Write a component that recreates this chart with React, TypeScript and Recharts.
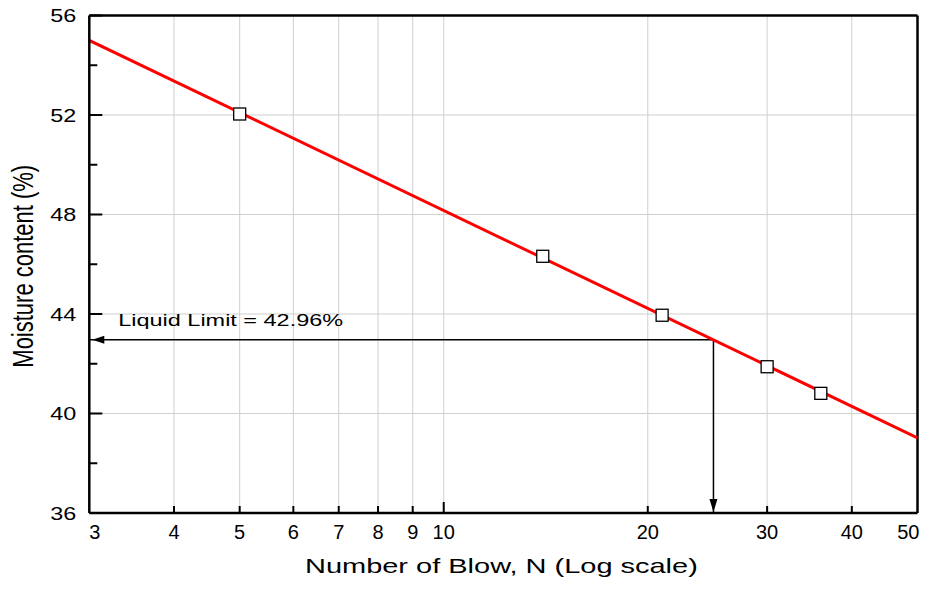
import {
  ComposedChart,
  Line,
  Scatter,
  XAxis,
  YAxis,
  CartesianGrid,
  ReferenceLine,
  Label,
} from 'recharts';

// Casagrande test results
const blowCounts = [5, 14, 21, 30, 36];
const moistureContent = [52.04, 46.32, 43.95, 41.88, 40.81];

// fitted flow line ends
const fitBlows = [3, 50];
const fitMoisture = [55.0, 39.02];

// liquid limit read at 25 blows
const llBlows = 25;
const liquidLimit = 42.96;

const xTicks = [3, 4, 5, 6, 7, 8, 9, 10, 20, 30, 40, 50];
const yTicks = [36, 38, 40, 42, 44, 46, 48, 50, 52, 54, 56];
const xGrid = [4, 5, 6, 7, 8, 9, 10, 20, 30, 40];
const yGrid = [40, 44, 48, 52];

const tests = blowCounts.map((n, i) => ({ n, w: moistureContent[i] }));
const fitLine = fitBlows.map((n, i) => ({ n, w: fitMoisture[i] }));
const hArrow = [
  { n: llBlows, w: liquidLimit },
  { n: 3, w: liquidLimit },
];
const vArrow = [
  { n: llBlows, w: liquidLimit },
  { n: llBlows, w: 36 },
];

const FONT = 'Liberation Sans, Arial, sans-serif';

const YTick = (props: any) => {
  const { x, y, payload } = props;
  const v = payload.value;
  const major = v % 4 === 0;
  return (
    <g>
      <line x1={x} y1={y} x2={x + (major ? 13 : 8)} y2={y} stroke="#000" strokeWidth={2} />
      {major && (
        <text
          transform={`translate(${x - 13},${y}) scale(1.23,1)`}
          textAnchor="end"
          dy="0.36em"
          fontSize={19}
          fontFamily={FONT}
          fill="#000"
        >
          {v}
        </text>
      )}
    </g>
  );
};

const XTick = (props: any) => {
  const { x, y, payload, index } = props;
  const v = payload.value;
  const major = v === 10;
  let anchor = 'middle';
  let tx = x;
  if (index === 0) {
    anchor = 'start';
  } else if (index === xTicks.length - 1) {
    anchor = 'end';
    tx = x + 2;
  }
  return (
    <g>
      {index !== 0 && index !== xTicks.length - 1 && (
        <line x1={x} y1={y} x2={x} y2={y - (major ? 11 : 7)} stroke="#000" strokeWidth={2} />
      )}
      <text x={tx} y={y + 26} textAnchor={anchor} fontSize={20} fontFamily={FONT} fill="#000">
        {v}
      </text>
    </g>
  );
};

const hArrowDot = (p: any) => {
  if (p.index !== hArrow.length - 1) return <g key={`h-${p.index}`} />;
  const { cx, cy } = p;
  return (
    <g key={`h-${p.index}`}>
      <polygon points={`${cx + 3},${cy} ${cx + 15},${cy - 4} ${cx + 15},${cy + 4}`} fill="#000" />
      <text
        transform={`translate(${cx + 29},${cy - 14}) scale(1.38,1)`}
        fontSize={17}
        fontFamily={FONT}
        fill="#000"
      >
        {`Liquid Limit = ${liquidLimit.toFixed(2)}%`}
      </text>
    </g>
  );
};

const vArrowDot = (p: any) => {
  if (p.index !== vArrow.length - 1) return <g key={`v-${p.index}`} />;
  const { cx, cy } = p;
  return (
    <polygon
      key={`v-${p.index}`}
      points={`${cx},${cy - 1} ${cx - 4},${cy - 14} ${cx + 4},${cy - 14}`}
      fill="#000"
    />
  );
};

const square = (p: any) => (
  <rect x={p.cx - 6} y={p.cy - 6} width={12} height={12} fill="#fff" stroke="#000" strokeWidth={1.3} />
);

const XTitle = (props: any) => {
  const vb = props.viewBox;
  return (
    <text
      transform={`translate(${vb.x + vb.width / 2 - 2},${vb.y + 60}) scale(1.38,1)`}
      textAnchor="middle"
      fontSize={21}
      fontFamily={FONT}
      fill="#000"
    >
      Number of Blow, N (Log scale)
    </text>
  );
};

const YTitle = (props: any) => {
  const vb = props.viewBox;
  return (
    <text
      transform={`translate(${vb.x + 4},${vb.y + vb.height / 2 + 2}) scale(1.38,1) rotate(-90)`}
      textAnchor="middle"
      fontSize={22}
      fontFamily={FONT}
      fill="#000"
    >
      Moisture content (%)
    </text>
  );
};

export default function App() {
  return (
    <div style={{ width: 921, height: 582 }}>
      <ComposedChart
        width={921}
        height={582}
        margin={{ top: 7.5, right: 11.5, bottom: 32, left: 21.3 }}
      >
        <CartesianGrid
          stroke="#cfcfcf"
          strokeWidth={1}
          horizontalValues={yGrid}
          verticalValues={xGrid}
        />
        <XAxis
          dataKey="n"
          type="number"
          scale="log"
          domain={[3, 50]}
          allowDataOverflow
          ticks={xTicks}
          interval={0}
          height={45}
          tickSize={0}
          tickMargin={0}
          tick={<XTick />}
          axisLine={{ stroke: '#000', strokeWidth: 2.5 }}
        >
          <Label content={<XTitle />} />
        </XAxis>
        <YAxis
          dataKey="w"
          type="number"
          domain={[36, 56]}
          allowDataOverflow
          ticks={yTicks}
          interval={0}
          width={60}
          tickSize={0}
          tickMargin={0}
          tick={<YTick />}
          axisLine={{ stroke: '#000', strokeWidth: 2.5 }}
        >
          <Label content={<YTitle />} />
        </YAxis>
        <ReferenceLine y={56} stroke="#000" strokeWidth={2.5} />
        <ReferenceLine x={50} stroke="#000" strokeWidth={2.5} />
        <Line
          data={hArrow}
          dataKey="w"
          stroke="#000"
          strokeWidth={1.5}
          dot={hArrowDot}
          activeDot={false}
          isAnimationActive={false}
        />
        <Line
          data={vArrow}
          dataKey="w"
          stroke="#000"
          strokeWidth={1.5}
          dot={vArrowDot}
          activeDot={false}
          isAnimationActive={false}
        />
        <Scatter data={tests} dataKey="w" shape={square} isAnimationActive={false} />
        <Line
          data={fitLine}
          dataKey="w"
          stroke="#ff0000"
          strokeWidth={3}
          dot={false}
          activeDot={false}
          isAnimationActive={false}
        />
      </ComposedChart>
    </div>
  );
}
